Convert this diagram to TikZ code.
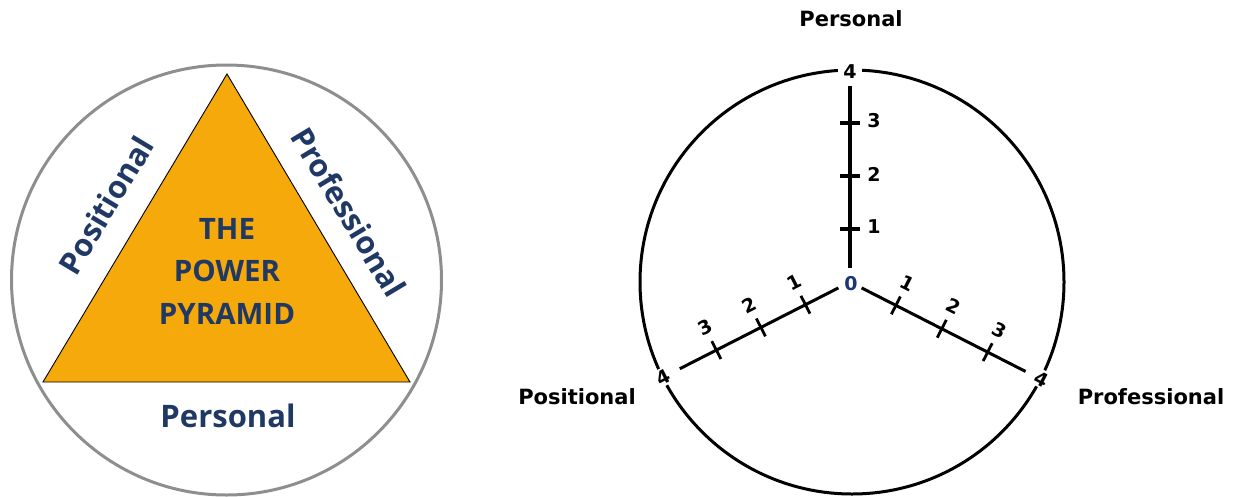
\documentclass[tikz,border=0pt]{standalone}
\usepackage{fontspec}
\usetikzlibrary{calc}
\newfontfamily\segoe{Open Sans}
\newfontfamily\verd{DejaVu Sans}
\definecolor{navy}{HTML}{1F3864}
\definecolor{zeroblue}{HTML}{1A3578}
\definecolor{pyr}{HTML}{F6A90A}
\definecolor{ring}{HTML}{8E8E8E}
\tikzset{
  pyrtext/.style={text=navy, font=\segoe\bfseries\fontsize{29.5}{42.5}\selectfont, align=center, inner sep=0pt},
  sidetext/.style={text=navy, font=\segoe\bfseries\fontsize{31}{31}\selectfont, inner sep=0pt},
  axlabel/.style={font=\verd\bfseries\fontsize{21}{21}\selectfont, inner sep=0pt},
  digit/.style={font=\verd\bfseries\fontsize{19}{19}\selectfont, inner sep=0pt},
  fourlab/.style={digit, fill=white, inner xsep=5pt, inner ysep=2pt},
  axisline/.style={line width=3pt},
  tickline/.style={line width=2.8pt}
}
\begin{document}
\begin{tikzpicture}[x=1pt,y=-1pt]
\useasboundingbox (0,0) rectangle (1233,496);
% ---------- left: power pyramid ----------
\coordinate (C) at (226.5,280);
\draw[ring, line width=3pt] (C) circle[radius=215pt];
\coordinate (apex) at (227,74);
\coordinate (bl) at (43,382);
\coordinate (br) at (410,382);
\draw[fill=pyr, line width=0.9pt] (apex) -- (bl) -- (br) -- cycle;
\node[pyrtext] (title) at (227,271) {THE\\POWER\\PYRAMID};
\node[sidetext, rotate=59] (posl) at (106,205) {Positional};
\node[sidetext, rotate=-59] (profl) at (349,212) {Professional};
\node[sidetext] (persl) at (228,416) {Personal};
% ---------- right: radar axes ----------
\coordinate (O) at (850,282);
\draw[line width=3pt] (852,282) circle[radius=212pt];
% vertical axis
\coordinate (vtop) at (850,86);
\coordinate (vbot) at (850,268);
\draw[line width=3.6pt] (vbot) -- (vtop);
\foreach \d/\yy in {1/229,2/176,3/123}{
  \coordinate (vt\d) at (850,\yy);
  \draw[line width=3.4pt] ($(vt\d)+(-10,0)$) -- ($(vt\d)+(10,0)$);
  \node[digit] (vl\d) at ($(vt\d)+(24,-2)$) {\d};
}
% left axis
\coordinate (ls) at ($(O)+({-0.891*13},{0.454*13})$);
\coordinate (le) at ($(O)+({-0.891*191},{0.454*191})$);
\draw[axisline] (ls) -- (le);
\foreach \d in {1,2,3}{
  \coordinate (lt\d) at ($(O)+({-0.891*50*\d},{0.454*50*\d})$);
  \draw[tickline] ($(lt\d)+(4.54,8.91)$) -- ($(lt\d)+(-4.54,-8.91)$);
  \node[digit, rotate=27] (ll\d) at ($(lt\d)+(-11.4,-22.3)$) {\d};
}
% right axis
\coordinate (rs) at ($(O)+({0.891*13},{0.454*13})$);
\coordinate (re) at ($(O)+({0.891*197},{0.454*197})$);
\draw[axisline] (rs) -- (re);
\foreach \d in {1,2,3}{
  \coordinate (rt\d) at ($(O)+({0.891*51.5*\d},{0.454*51.5*\d})$);
  \draw[tickline] ($(rt\d)+(-4.54,8.91)$) -- ($(rt\d)+(4.54,-8.91)$);
  \node[digit, rotate=-27] (rl\d) at ($(rt\d)+(11.4,-22.3)$) {\d};
}
% end labels
\node[fourlab] (four1) at (850,72) {4};
\node[fourlab, rotate=27] (four2) at (663,377) {4};
\node[fourlab, rotate=-27] (four3) at (1042,379) {4};
\node[digit, text=zeroblue] (zero) at (851,284) {0};
% axis titles
\node[axlabel] (tpers) at (851,19) {Personal};
\node[axlabel] (tpos) at (577,397) {Positional};
\node[axlabel] (tprof) at (1151,397) {Professional};
\end{tikzpicture}
\end{document}
